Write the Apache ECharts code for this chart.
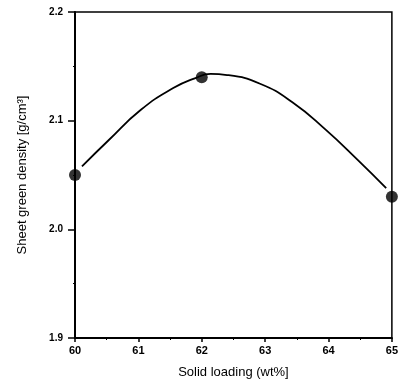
<!DOCTYPE html>
<html>
<head>
<meta charset="utf-8">
<script src="https://cdn.jsdelivr.net/npm/echarts@6/dist/echarts.min.js"></script>
<style>html,body{margin:0;padding:0;background:#fff}#c{width:401px;height:385px}</style>
</head>
<body>
<div id="c"></div>
<script>
// measured points
var solidLoading = [60, 62, 65];
var greenDensity = [2.05, 2.14, 2.03];
// fitted curve
var curveX = [60.11, 60.53, 61.04, 61.55, 61.89, 62.14, 62.40, 62.92, 63.43, 63.95, 64.46, 64.91];
var curveY = [2.058, 2.082, 2.110, 2.130, 2.139, 2.143, 2.142, 2.134, 2.117, 2.092, 2.064, 2.038];
var xTicks = [60, 61, 62, 63, 64, 65];

var chart = echarts.init(document.getElementById('c'), null, {renderer: 'canvas'});
var font = 'Liberation Sans, Arial, sans-serif';
chart.setOption({
  animation: false,
  backgroundColor: '#fff',
  grid: {left: 75, right: 3, top: 12, bottom: 47, show: true, borderColor: '#000', borderWidth: 1.5},
  xAxis: {
    type: 'value', min: 60, max: 65, interval: 1,
    axisLine: {lineStyle: {color: '#000', width: 2}},
    axisTick: {inside: false, length: 4, lineStyle: {color: '#000', width: 1.5}},
    minorTick: {show: true, splitNumber: 2, length: 2, lineStyle: {color: '#000'}},
    splitLine: {show: false},
    axisLabel: {color: '#000', fontFamily: font, fontWeight: 'bold', fontSize: 11, margin: 7,
      formatter: function (v) { return xTicks.indexOf(v) >= 0 ? String(v) : ''; }},
    name: 'Solid loading (wt%]', nameLocation: 'middle', nameGap: 28,
    nameTextStyle: {color: '#000', fontFamily: font, fontSize: 13}
  },
  yAxis: {
    type: 'value', min: 1.9, max: 2.2, interval: 0.1,
    axisLine: {show: true, lineStyle: {color: '#000', width: 2}},
    axisTick: {show: true, inside: false, length: 7, lineStyle: {color: '#000', width: 1.5}},
    minorTick: {show: true, splitNumber: 2, length: 2, lineStyle: {color: '#000'}},
    splitLine: {show: false},
    axisLabel: {color: '#000', fontFamily: font, fontWeight: 'bold', fontSize: 10, margin: 12,
      formatter: function (v) { return v.toFixed(1); }},
    name: 'Sheet green density [g/cm³]', nameLocation: 'middle', nameGap: 46,
    nameTextStyle: {color: '#000', fontFamily: font, fontSize: 13}
  },
  series: [
    {
      type: 'line', smooth: 0.5, symbol: 'none', silent: true,
      lineStyle: {color: '#000', width: 1.8},
      data: curveX.map(function (x, i) { return [x, curveY[i]]; }),
      z: 2
    },
    {
      type: 'scatter', symbol: 'circle', symbolSize: 12,
      itemStyle: {color: '#000'},
      data: solidLoading.map(function (x, i) { return [x, greenDensity[i]]; }),
      z: 3, clip: false
    }
  ]
});
</script>
</body>
</html>
